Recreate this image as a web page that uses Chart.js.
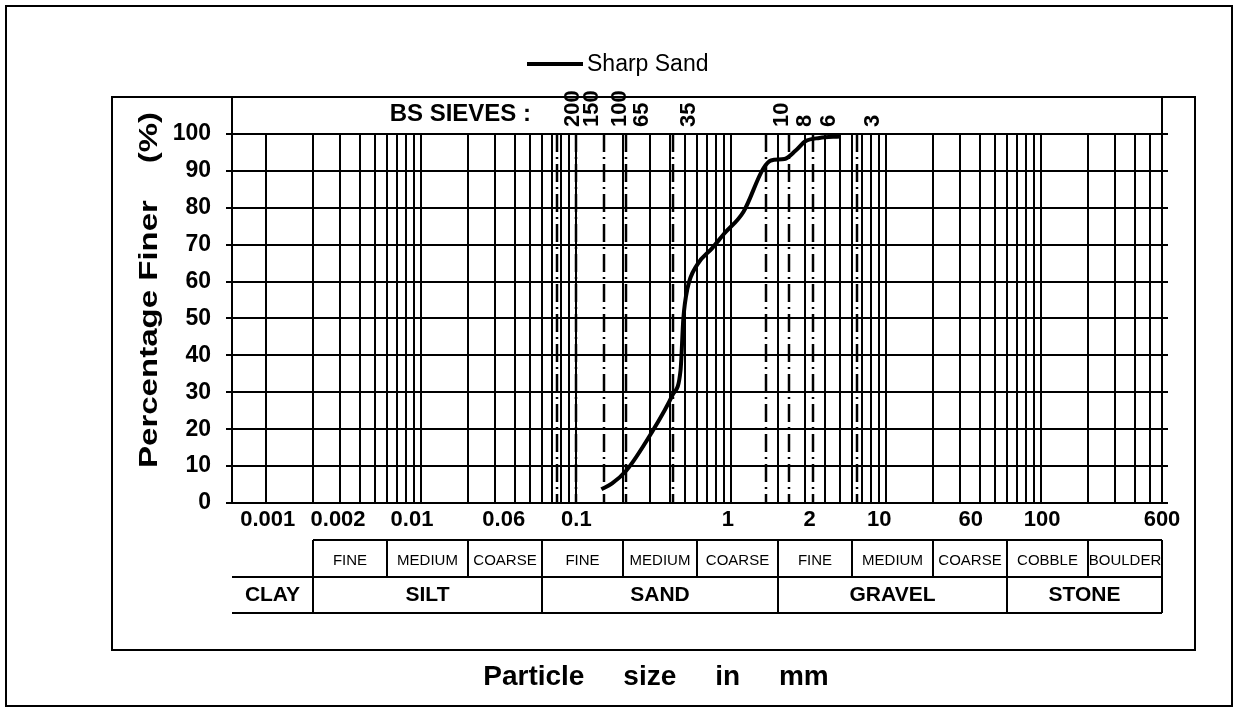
<!DOCTYPE html>
<html>
<head>
<meta charset="utf-8">
<script src="https://cdn.jsdelivr.net/npm/chart.js@4.4.1/dist/chart.umd.min.js"></script>
<style>
  html, body { margin: 0; padding: 0; background: #fff; }
  #wrap { width: 1238px; height: 712px; }
</style>
</head>
<body>
<div id="wrap"><canvas id="psd"></canvas></div>
<script>
// grading curve (mm, % finer)
const sizes = [0.145, 0.17, 0.21, 0.3, 0.42, 0.47, 0.49, 0.52, 0.6, 0.75, 0.9, 1.2, 1.6, 1.8, 2.2, 2.6, 3.0, 3.7, 5.0];
const finer = [3.7, 5.3, 8.8, 18.5, 29.5, 36, 50, 58, 64.5, 69, 73, 79, 90.5, 92.8, 93.2, 95.5, 98, 98.9, 99.3];

// BS sieve numbers and their openings (mm)
const sieveNames = ['200', '150', '100', '65', '35', '10', '8', '6', '3'];
const sieveSizes = [0.075, 0.1, 0.15, 0.21, 0.42, 1.68, 2.36, 3.35, 6.5];

// x labels, and the size each one sits over on the sheet
const xTickLabels = ['0.001', '0.002', '0.01', '0.06', '0.1', '1', '2', '10', '60', '100', '600'];
const xTickAt = [0.00102, 0.0029, 0.0087, 0.034, 0.1, 0.95, 3.2, 9, 35, 101, 600];

const yTicks = [0, 10, 20, 30, 40, 50, 60, 70, 80, 90, 100];

// soil classification strip
const subBounds = [0.002, 0.006, 0.02, 0.06, 0.2, 0.6, 2, 6, 20, 60, 200, 600];
const subNames = ['FINE', 'MEDIUM', 'COARSE', 'FINE', 'MEDIUM', 'COARSE', 'FINE', 'MEDIUM', 'COARSE', 'COBBLE', 'BOULDER'];
const classBounds = [0.0006, 0.002, 0.06, 2, 60, 600];
const classNames = ['CLAY', 'SILT', 'SAND', 'GRAVEL', 'STONE'];

const FONT = '"Liberation Sans", Arial, sans-serif';

function seg(ctx, x1, y1, x2, y2) {
  ctx.beginPath();
  ctx.moveTo(x1, y1);
  ctx.lineTo(x2, y2);
  ctx.stroke();
}

const sheet = {
  id: 'sheet',
  beforeDatasetsDraw(chart) {
    const { ctx, scales: { x, y } } = chart;
    const L = Math.round(x.left), R = Math.round(x.right);
    const y0 = Math.round(y.getPixelForValue(0));
    const y100 = Math.round(y.getPixelForValue(100));
    const yTop = Math.round(y.getPixelForValue(110));
    ctx.save();
    ctx.strokeStyle = '#000';
    ctx.lineWidth = 2;

    // horizontal grid, sticking out both sides
    yTicks.forEach(v => {
      const py = Math.round(y.getPixelForValue(v));
      seg(ctx, L - 6, py, R + 6, py);
    });

    // log grid 1..9 per decade
    for (let k = -3; k <= 2; k++) {
      for (let m = 1; m <= 9; m++) {
        const v = m * Math.pow(10, k);
        if (v >= 600) continue;
        const px = Math.round(x.getPixelForValue(v));
        seg(ctx, px, y100, px, y0);
      }
    }

    // sieve lines
    ctx.setLineDash([18, 5, 2, 5]);
    ctx.lineWidth = 2.5;
    sieveSizes.forEach(s => {
      const px = Math.round(x.getPixelForValue(s));
      seg(ctx, px, y100, px, y0);
    });
    ctx.setLineDash([]);
    ctx.lineWidth = 2;

    // plot frame
    ctx.strokeRect(L, yTop, R - L, y0 - yTop);

    // sieve numbers along the top band
    ctx.fillStyle = '#000';
    ctx.font = 'bold 24px ' + FONT;
    ctx.textAlign = 'right';
    ctx.textBaseline = 'middle';
    ctx.fillText('BS SIEVES :', x.getPixelForValue(sieveSizes[0]) - 26, yTop + 17);
    ctx.font = 'bold 22px ' + FONT;
    sieveNames.forEach((n, i) => {
      const px = x.getPixelForValue(sieveSizes[i]) + 16;
      ctx.save();
      ctx.translate(px, y100 - 7);
      ctx.rotate(-Math.PI / 2);
      ctx.textAlign = 'left';
      ctx.textBaseline = 'middle';
      ctx.fillText(n, 0, 0);
      ctx.restore();
    });
    ctx.restore();
  },
  afterDraw(chart) {
    const { ctx, scales: { x, y } } = chart;
    const L = Math.round(x.left), R = Math.round(x.right);
    const y0 = y.getPixelForValue(0);
    const r1 = Math.round(y0 + 37), r2 = Math.round(y0 + 74), r3 = Math.round(y0 + 110);
    ctx.save();
    ctx.strokeStyle = '#000';
    ctx.fillStyle = '#000';
    ctx.lineWidth = 2;

    // classification strip
    const px = v => Math.round(x.getPixelForValue(v));
    seg(ctx, px(subBounds[0]), r1, R, r1);
    seg(ctx, L, r2, R, r2);
    seg(ctx, L, r3, R, r3);
    subBounds.forEach(b => seg(ctx, px(b), r1, px(b), r2));
    classBounds.slice(1).forEach(b => seg(ctx, px(b), r2, px(b), r3));
    ctx.textAlign = 'center';
    ctx.textBaseline = 'middle';
    ctx.font = '15px ' + FONT;
    subNames.forEach((n, i) => {
      ctx.fillText(n, (px(subBounds[i]) + px(subBounds[i + 1])) / 2, (r1 + r2) / 2 + 2);
    });
    ctx.font = 'bold 21px ' + FONT;
    classNames.forEach((n, i) => {
      ctx.fillText(n, (px(classBounds[i]) + px(classBounds[i + 1])) / 2, (r2 + r3) / 2);
    });

    // legend
    const ds = chart.data.datasets[0];
    ctx.lineWidth = 4;
    ctx.strokeStyle = ds.borderColor;
    seg(ctx, 527, 64, 583, 64);
    ctx.textAlign = 'left';
    ctx.font = '23px ' + FONT;
    ctx.fillText(ds.label, 587, 65);

    // axis titles
    ctx.font = 'bold 28px ' + FONT;
    ctx.textAlign = 'center';
    ctx.fillText('Particle     size     in     mm', 656, 677);
    ctx.save();
    ctx.translate(150, 290);
    ctx.rotate(-Math.PI / 2);
    ctx.scale(1.27, 1);
    ctx.font = 'bold 26px ' + FONT;
    ctx.fillText('Percentage Finer    (%)', 0, 0);
    ctx.restore();

    // frames
    ctx.lineWidth = 2;
    ctx.strokeStyle = '#000';
    ctx.strokeRect(112, 97, 1083, 553);
    ctx.strokeRect(6, 6, 1226, 700);
    ctx.restore();
  }
};

new Chart(document.getElementById('psd'), {
  type: 'line',
  data: {
    datasets: [
      {
        label: 'Sharp Sand',
        data: sizes.map((s, i) => ({ x: s, y: finer[i] })),
        borderColor: '#000',
        backgroundColor: '#000',
        borderWidth: 4,
        pointRadius: 0,
        cubicInterpolationMode: 'monotone',
        fill: false
      }
    ]
  },
  options: {
    responsive: true,
    maintainAspectRatio: false,
    animation: false,
    events: [],
    layout: { padding: { left: 0, right: 76, top: 97, bottom: 0 } },
    plugins: {
      legend: { display: false },
      tooltip: { enabled: false }
    },
    scales: {
      x: {
        type: 'logarithmic',
        min: 0.0006,
        max: 600,
        grid: { display: false, drawTicks: false },
        border: { display: false },
        afterBuildTicks: scale => {
          scale.ticks = xTickAt.map(v => ({ value: v }));
        },
        afterFit: scale => { scale.height = 209; },
        ticks: {
          autoSkip: false,
          maxRotation: 0,
          padding: 4,
          color: '#000',
          font: { family: FONT, size: 22, weight: 'bold' },
          callback: (v, i) => xTickLabels[i]
        }
      },
      y: {
        min: 0,
        max: 110,
        grid: { display: false, drawTicks: false },
        border: { display: false },
        afterFit: scale => { scale.width = 232; },
        ticks: {
          stepSize: 10,
          padding: 21,
          color: '#000',
          font: { family: FONT, size: 23, weight: 'bold' },
          callback: v => (v > 100 ? '' : v)
        }
      }
    }
  },
  plugins: [sheet]
});
</script>
</body>
</html>
